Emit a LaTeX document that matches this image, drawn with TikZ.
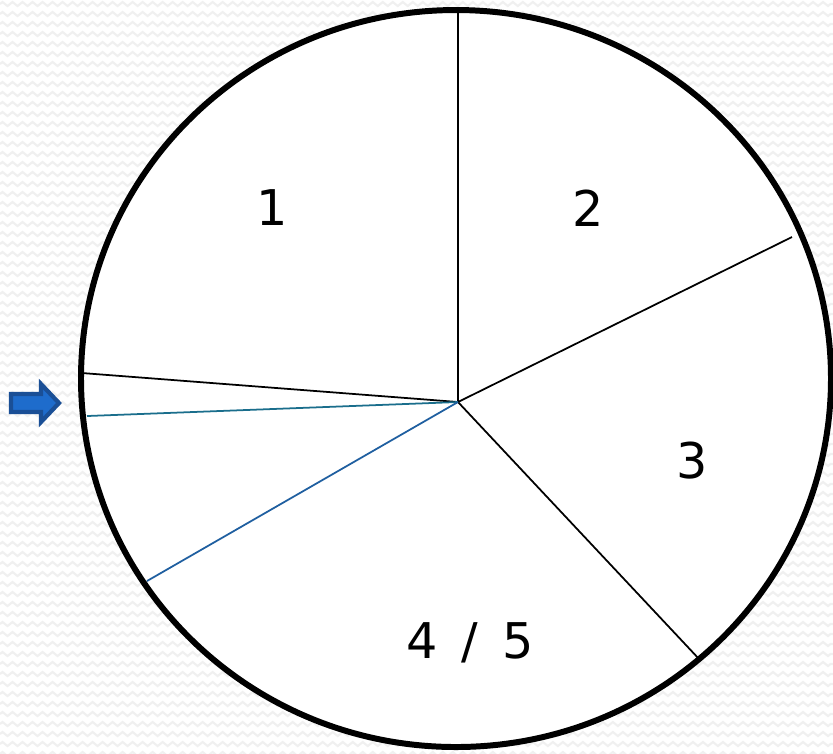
\documentclass[tikz,border=0pt]{standalone}
\usepackage{fontspec}
\setmainfont{DejaVu Sans}
\usetikzlibrary{positioning,calc,decorations.pathmorphing}
\definecolor{spoketeal}{HTML}{1A6E8C}
\definecolor{spokeblue}{HTML}{1F5FA0}
\definecolor{arrowfill}{HTML}{1E6CCC}
\definecolor{arrowedge}{HTML}{1A4F96}

\begin{document}
\begin{tikzpicture}[x=0.01cm, y=-0.01cm, >=stealth]
  \tikzset{
    spoke/.style={line width=0.5pt, black},
    seglabel/.style={font=\fontsize{14}{16}\selectfont, inner sep=0pt}
  }
  \useasboundingbox (0,0) rectangle (833,753);

  % Background (zigzag texture)
  \fill[white] (0,0) rectangle (833,753);
  \foreach \yy in {4,14,...,754}
    \draw[black!6, line width=0.6pt, decorate, decoration={zigzag, segment length=0.1cm, amplitude=0.02cm}] (0,\yy) -- (833,\yy);

  % Wheel
  \fill[white] (456,378.5) ellipse [x radius=375, y radius=368.5];

  % Spokes
  \coordinate (hub) at (458,402);
  \coordinate (rimA) at (458,10);
  \coordinate (rimB) at (792,237);
  \coordinate (rimC) at (700,660);
  \coordinate (rimD) at (82,373);
  \coordinate (rimE) at (87,416);
  \coordinate (rimF) at (147,581);
  \draw[spoke] (hub) -- (rimA);
  \draw[spoke] (hub) -- (rimB);
  \draw[spoke] (hub) -- (rimC);
  \draw[spoke] (hub) -- (rimD);
  \draw[line width=0.5pt, spoketeal] (hub) -- (rimE);
  \draw[line width=0.5pt, spokeblue] (hub) -- (rimF);

  \draw[line width=1.7pt, black] (456,378.5) ellipse [x radius=375, y radius=368.5];

  % Segment numbers
  \node[seglabel] (s1) at (272,208) {1};
  \node[seglabel] (s2) at (588,208) {2};
  \node[seglabel] (s3) at (692,461) {3};
  \node[seglabel] (s45) at (470,643) {4 \,/\, 5};

  % Pointer
  \draw[fill=arrowfill, draw=arrowedge, line width=1.2pt, line join=miter]
    (11,394) -- (41,394) -- (41,384) -- (59,403) -- (41,422) -- (41,412) -- (11,412) -- cycle;
\end{tikzpicture}
\end{document}
